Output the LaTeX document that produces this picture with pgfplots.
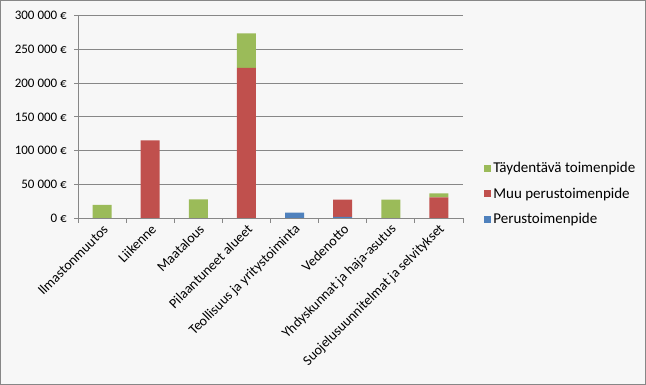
\documentclass[border=0pt]{standalone}
\usepackage{pgfplots}
\pgfplotsset{compat=1.18}
\usepackage{fontspec}
\setmainfont{Carlito}
\definecolor{cgreen}{HTML}{9BBB59}
\definecolor{cred}{HTML}{C0504D}
\definecolor{cblue}{HTML}{4F81BD}
\definecolor{cgrid}{HTML}{878787}
\definecolor{cbg}{HTML}{F7F7F7}
\begin{document}
\fontsize{14bp}{16bp}\selectfont
\begin{tikzpicture}
\path[use as bounding box, fill=cbg] (0,0) rectangle (646bp,385bp);
\draw[cgrid, line width=1bp] (0.5bp,0.5bp) rectangle (645.5bp,384.5bp);
\begin{axis}[
  at={(78bp,167bp)}, anchor=south west,
  scale only axis, width=385bp, height=202.3bp,
  ybar stacked, bar width=19bp,
  xmin=-0.5, xmax=7.5, ymin=0, ymax=300000,
  scaled y ticks=false,
  axis lines*=left,
  axis line style={cgrid, line width=0.8bp},
  xtick={0,...,7},
  xticklabels={Ilmastonmuutos,Liikenne,Maatalous,Pilaantuneet alueet,Teollisuus ja yritystoiminta,Vedenotto,Yhdyskunnat ja haja-asutus,Suojelusuunnitelmat ja selvitykset},
  xticklabel style={rotate=45, anchor=east, inner sep=1bp, yshift=-6bp, xshift=0bp, font=\fontsize{14bp}{16bp}\selectfont},
  major x tick style={draw=none},
  minor xtick={-0.5,0.5,...,7.5},
  minor x tick style={cgrid, line width=0.8bp},
  minor tick length=5bp,
  ytick={0,50000,...,300000},
  yticklabels={0 €,50 000 €,100 000 €,150 000 €,200 000 €,250 000 €,300 000 €},
  yticklabel style={font=\fontsize{13bp}{15bp}\selectfont, inner sep=2bp, xshift=-5bp},
  major y tick style={cgrid, line width=0.8bp},
  major tick length=4bp,
  tick align=outside,
  ymajorgrids, grid style={cgrid, line width=0.8bp},
  reverse legend,
  legend style={at={(1.055,0.119)}, anchor=west, draw=none, fill=none,
    font=\fontsize{15bp}{17bp}\selectfont, row sep=9bp, inner sep=0pt},
  legend cell align=left,
]
\addplot+[fill=cblue, draw=none, area legend,
  legend image code/.code={\fill[cblue] (3bp,-3.5bp) rectangle (10bp,3.5bp);}]
  coordinates {(0,0) (1,0) (2,0) (3,0) (4,7900) (5,1500) (6,0) (7,0)};
\addplot+[fill=cred, draw=none, area legend,
  legend image code/.code={\fill[cred] (3bp,-3.5bp) rectangle (10bp,3.5bp);}]
  coordinates {(0,0) (1,115000) (2,0) (3,222500) (4,0) (5,25700) (6,0) (7,30600)};
\addplot+[fill=cgreen, draw=none, area legend,
  legend image code/.code={\fill[cgreen] (3bp,-3.5bp) rectangle (10bp,3.5bp);}]
  coordinates {(0,19300) (1,0) (2,27700) (3,51300) (4,0) (5,0) (6,27200) (7,6000)};
\legend{Perustoimenpide,Muu perustoimenpide,Täydentävä toimenpide}
\end{axis}
\end{tikzpicture}
\end{document}
